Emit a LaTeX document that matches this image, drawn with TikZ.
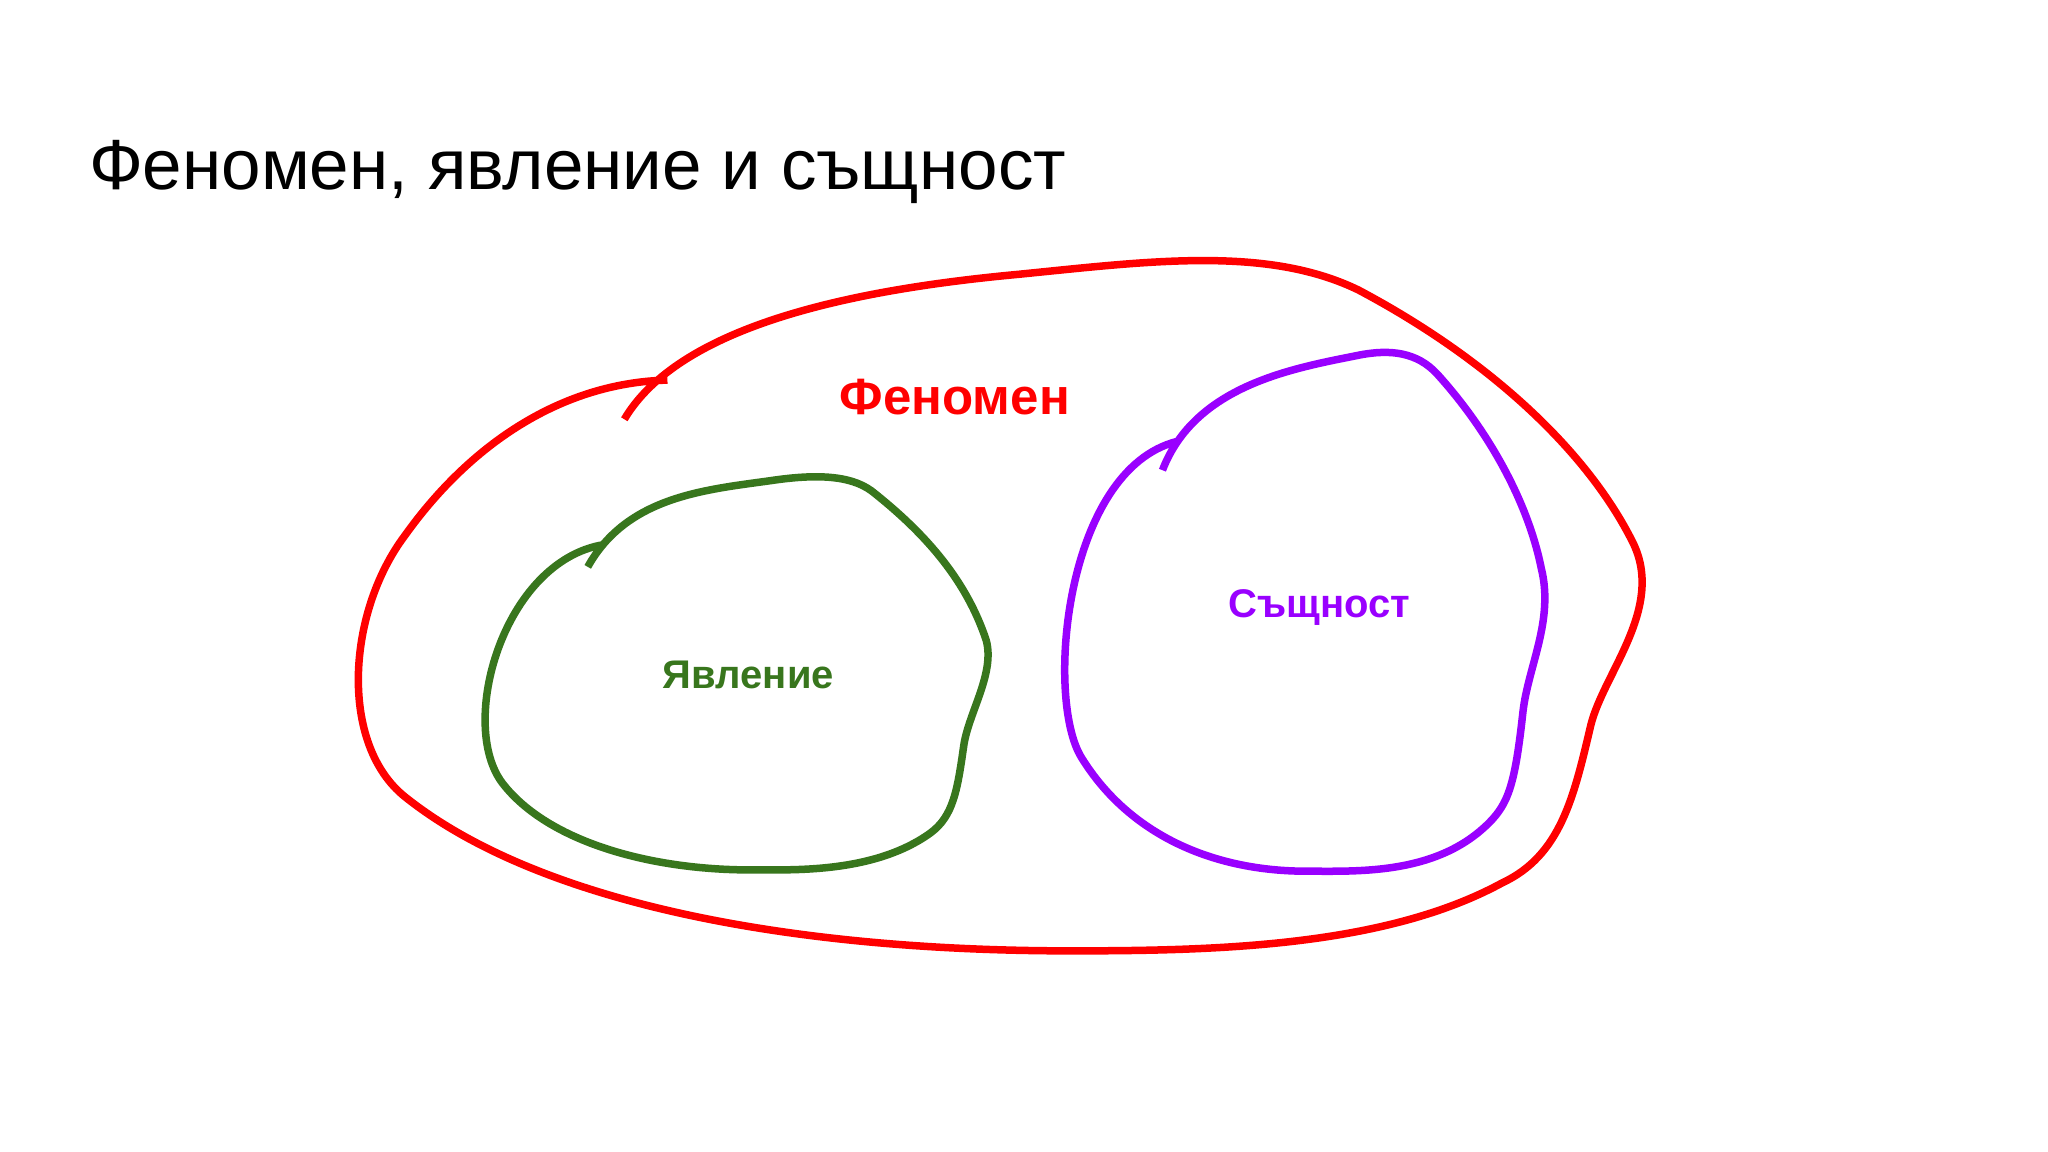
\documentclass[tikz,border=0pt]{standalone}
\usepackage{fontspec}
\setmainfont{Liberation Sans}
\definecolor{phred}{HTML}{FF0000}
\definecolor{phgreen}{HTML}{38761D}
\definecolor{phpurple}{HTML}{9900FF}
\begin{document}
\begin{tikzpicture}[x=1.306pt,y=-1.306pt,
  curve/.style={line width=7.5pt, line cap=butt, line join=round},
  lbl/.style={font=\fontsize{40}{48}\selectfont\bfseries, inner sep=0pt}]
\fill[white] (0,0) rectangle (1568,882);
\useasboundingbox (0,0) rectangle (1568,882);
\node[anchor=base west, inner sep=0pt, font=\fontsize{71}{85}\selectfont] (title) at (68,145) {Феномен, явление и същност};

% Phenomenon (red)
\draw[curve, phred] (478,321) .. controls (520,250) and (650,222) .. (780,210)
  .. controls (880,200) and (970,188) .. (1040,222)
  .. controls (1140,275) and (1215,345) .. (1250,415)
  .. controls (1275,465) and (1228,515) .. (1218,555)
  .. controls (1205,610) and (1195,655) .. (1150,676)
  .. controls (1060,725) and (930,728) .. (820,728)
  .. controls (600,728) and (410,690) .. (310,610)
  .. controls (260,570) and (265,470) .. (310,410)
  .. controls (360,340) and (430,293) .. (511,291);
\node[lbl, text=phred, font=\fontsize{51}{60}\selectfont\bfseries] (phen) at (731,304) {Феномен};

% Appearance (green)
\draw[curve, phgreen] (450,434) .. controls (480,380) and (540,375) .. (590,368)
  .. controls (630,362) and (655,365) .. (670,378)
  .. controls (710,410) and (740,445) .. (755,490)
  .. controls (762,515) and (742,545) .. (738,570)
  .. controls (733,605) and (730,625) .. (712,638)
  .. controls (670,668) and (610,666) .. (580,666)
  .. controls (500,667) and (420,645) .. (385,600)
  .. controls (350,555) and (385,430) .. (462,417);
\node[lbl, text=phgreen] (appear) at (573,517) {Явление};

% Essence (purple)
\draw[curve, phpurple] (890,360) .. controls (915,295) and (990,282) .. (1040,272)
  .. controls (1065,267) and (1085,270) .. (1100,286)
  .. controls (1140,330) and (1170,385) .. (1180,435)
  .. controls (1190,475) and (1170,510) .. (1166,545)
  .. controls (1160,600) and (1155,615) .. (1140,630)
  .. controls (1100,670) and (1040,667) .. (1000,667)
  .. controls (930,667) and (865,640) .. (828,580)
  .. controls (800,535) and (815,360) .. (901,338);
\node[lbl, text=phpurple] (essence) at (1010,465) {Същност};
\end{tikzpicture}
\end{document}
